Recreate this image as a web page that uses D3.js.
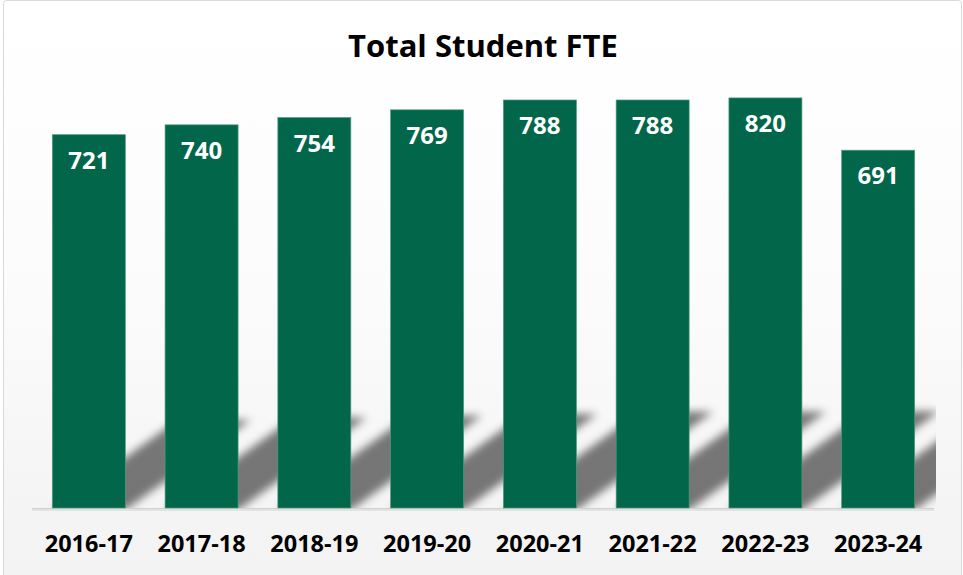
<!DOCTYPE html>
<html><head><meta charset="utf-8">
<script src="https://cdn.jsdelivr.net/npm/d3@7"></script>
<style>body{margin:0;background:#fff}svg{display:block}</style>
</head><body>
<script>
// ---- data ----
const categories = ["2016-17","2017-18","2018-19","2019-20","2020-21","2021-22","2022-23","2023-24"];
// bar lengths as drawn in the picture
const values = [721, 740, 754, 769, 788, 788, 792, 691];
// data labels as printed on the bars
const valueLabels = ["721","740","754","769","788","788","820","691"];
const chartTitle = "Total Student FTE";

// ---- layout ----
const W = 963, H = 575;
const baseY = 508;
const svg = d3.select("body").append("svg").attr("width", W).attr("height", H);
const defs = svg.append("defs");

const bg = defs.append("linearGradient").attr("id","bg").attr("x1",0).attr("y1",0).attr("x2",0).attr("y2",1);
bg.append("stop").attr("offset","0%").attr("stop-color","#ffffff");
bg.append("stop").attr("offset","45%").attr("stop-color","#fcfcfc");
bg.append("stop").attr("offset","100%").attr("stop-color","#f2f2f2");

defs.append("filter").attr("id","blur").attr("x","-30%").attr("y","-30%").attr("width","160%").attr("height","160%")
  .append("feGaussianBlur").attr("stdDeviation", 4.5);
defs.append("clipPath").attr("id","plotclip").append("rect")
  .attr("x", 0).attr("y", 30).attr("width", 936).attr("height", baseY - 30);

svg.append("rect").attr("x",3.5).attr("y",0.5).attr("width",958).attr("height",590).attr("rx",3)
  .attr("fill","url(#bg)").attr("stroke","#d9d9d9").attr("stroke-width",1);

const x = d3.scaleBand().domain(categories).range([32.5, 934.5]).paddingInner(0.3527).paddingOuter(0.1757);
const y = d3.scaleLinear().domain([0, 900]).range([baseY, 42]);

// title
svg.append("text").attr("x", 483).attr("y", 56.5).attr("text-anchor","middle")
  .attr("font-family","'Open Sans', sans-serif").attr("font-weight",700).attr("font-size",31)
  .attr("fill","#000").text(chartTitle);

// perspective shadows
const sh = svg.append("g").attr("clip-path","url(#plotclip)")
  .append("g").attr("filter","url(#blur)");
sh.selectAll("polygon").data(values).join("polygon")
  .attr("points", (d,i) => {
    const x0 = x(categories[i]), x1 = x0 + x.bandwidth();
    const h = baseY - y(d);
    const s = 0.236 * h, dx = s / 0.704;
    return [[x0, baseY+2],[x1, baseY+2],[x1+dx, baseY - s],[x0+dx, baseY - s]].map(p => p.join(",")).join(" ");
  })
  .attr("fill","#000").attr("fill-opacity",0.52);

// axis line
svg.append("line").attr("x1",32).attr("x2",934).attr("y1",510).attr("y2",510)
  .attr("stroke","#e2e2e2").attr("stroke-width",2);
svg.append("line").attr("x1",32).attr("x2",934).attr("y1",508.5).attr("y2",508.5)
  .attr("stroke","#d0d0d0").attr("stroke-width",1.2);

// bars
svg.append("g").selectAll("rect").data(values).join("rect")
  .attr("x", (d,i) => x(categories[i]))
  .attr("y", d => y(d))
  .attr("width", x.bandwidth())
  .attr("height", d => baseY - y(d))
  .attr("fill","#02674a")
  .attr("stroke","#4f9a80").attr("stroke-width",0.7);

// value labels
svg.append("g").selectAll("text").data(values).join("text")
  .attr("x", (d,i) => x(categories[i]) + x.bandwidth()/2)
  .attr("y", d => y(d) + 34)
  .attr("text-anchor","middle")
  .attr("font-family","'Open Sans', sans-serif").attr("font-weight",700).attr("font-size",24)
  .attr("fill","#ffffff")
  .text((d,i) => valueLabels[i]);

// x axis labels
const ax = svg.append("g").attr("transform", `translate(0,${baseY})`)
  .call(d3.axisBottom(x).tickSize(0).tickSizeOuter(0));
ax.select(".domain").remove();
ax.selectAll("text")
  .attr("y", 44).attr("dy", 0)
  .attr("font-family","'Open Sans', sans-serif").attr("font-weight",700).attr("font-size",23.5)
  .attr("fill","#000");
</script>
</body></html>
